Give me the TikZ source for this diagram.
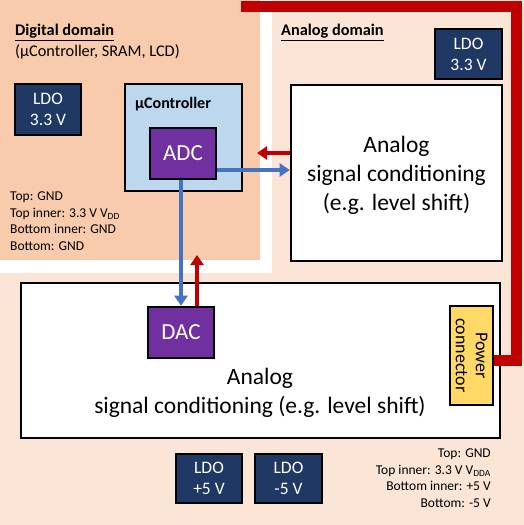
\documentclass[tikz,border=0pt]{standalone}
\usepackage{fontspec}
\setmainfont{Carlito}
\usetikzlibrary{arrows.meta}
\definecolor{digbg}{HTML}{F8CBAD}
\definecolor{anbg}{HTML}{FBE5D6}
\definecolor{ucblue}{HTML}{BDD7EE}
\definecolor{navy}{HTML}{203864}
\definecolor{purp}{HTML}{7030A0}
\definecolor{yel}{HTML}{FFD966}
\definecolor{pred}{HTML}{C00000}
\definecolor{sblue}{HTML}{4472C4}
\tikzset{
  boxbase/.style={draw=black, line width=2.6pt, inner sep=0pt, align=center},
  ldo/.style={boxbase, fill=navy, text=white, font=\fontsize{17.5}{21}\selectfont},
  conv/.style={boxbase, fill=purp, text=white, font=\fontsize{23}{27}\selectfont, minimum width=66pt, minimum height=51pt},
  sig/.style={boxbase, fill=white},
  sigtext/.style={align=center, font=\fontsize{23.5}{29}\selectfont},
  small/.style={font=\fontsize{13.5}{16}\selectfont, inner sep=0pt},
  head/.style={font=\fontsize{16.3}{20.5}\selectfont, inner sep=0pt, align=left},
  barrow/.style={draw=sblue, line width=3.6pt, -{Triangle[width=13pt,length=10pt]}},
  rarrow/.style={draw=pred, line width=3.6pt, -{Triangle[width=13pt,length=10pt]}},
  pline/.style={draw=pred, line width=11pt}
}
\begin{document}
\begin{tikzpicture}[x=1pt,y=-1pt]
\useasboundingbox (0,0) rectangle (524,525);
% backgrounds
\fill[anbg] (0,0) rectangle (524,525);
\fill[white] (0,0) rectangle (272,273);
\fill[digbg] (0,0) rectangle (260,260);
% headings
\node[head, anchor=north west] (dighead) at (15,24) {\underline{\textbf{Digital domain}}\\(µController, SRAM, LCD)};
\node[head, anchor=north west] (anhead) at (281,24) {\underline{\textbf{Analog domain}}};
% digital domain
\node[ldo, minimum width=66pt, minimum height=51pt] (ldoA) at (48,109.5) {LDO\\3.3 V};
\node[boxbase, fill=ucblue, minimum width=117pt, minimum height=107pt] (uc) at (183.5,137.5) {};
\node[anchor=west, inner sep=0pt, font=\fontsize{16}{19}\selectfont\bfseries] (uclabel) at (135,104) {µController};
\node[conv] (adc) at (183,153.5) {ADC};
\node[small, anchor=north west, align=left] (diglayers) at (10,192) {Top: GND\\[0.5pt]Top inner: 3.3 V V\textsubscript{DD}\\[0.5pt]Bottom inner: GND\\[0.5pt]Bottom: GND};
% analog domain
\node[ldo, minimum width=67pt, minimum height=50pt] (ldoB) at (468.5,54) {LDO\\3.3 V};
\node[sig, minimum width=211pt, minimum height=176pt] (sigA) at (396.5,173) {};
\node[sigtext] (sigAtext) at (396.5,175) {Analog\\signal conditioning\\(e.g. level shift)};
\node[sig, minimum width=479pt, minimum height=155pt] (sigB) at (260.5,360.5) {};
\node[sigtext] (sigBtext) at (260,393) {Analog\\signal conditioning (e.g. level shift)};
\node[conv] (dac) at (181,332.5) {DAC};
\node[boxbase, fill=yel, minimum width=43pt, minimum height=99pt] (pwr) at (471.5,355.5) {};
\node[rotate=-90, align=center, inner sep=0pt, font=\fontsize{18}{20}\selectfont] (pwrtext) at (471.5,355.5) {Power\\connector};
\node[ldo, minimum width=66pt, minimum height=49pt] (ldoC) at (209,478.5) {LDO\\+5 V};
\node[ldo, minimum width=67pt, minimum height=49pt] (ldoD) at (288.5,478.5) {LDO\\-5 V};
\node[small, anchor=north east, align=right] (anlayers) at (491,449) {Top: GND\\[0.5pt]Top inner: 3.3 V V\textsubscript{DDA}\\[0.5pt]Bottom inner: +5 V\\[0.5pt]Bottom: -5 V};
% power line
\coordinate (pwrtop) at (241,6);
\draw[pline] (pwr.east |- 0,360) -- (516,360) -- (516,6) -- (pwrtop);
% arrows
\coordinate (redtipA) at (257,153);
\coordinate (redtipB) at (197,255);
\draw[barrow] (adc.east |- 0,170) -- (sigA.west |- 0,170);
\draw[rarrow] (sigA.west |- 0,153) -- (redtipA);
\draw[barrow] (adc.south -| 181,0) -- (dac.north);
\draw[rarrow] (dac.north -| 197,0) -- (redtipB);
\end{tikzpicture}
\end{document}
